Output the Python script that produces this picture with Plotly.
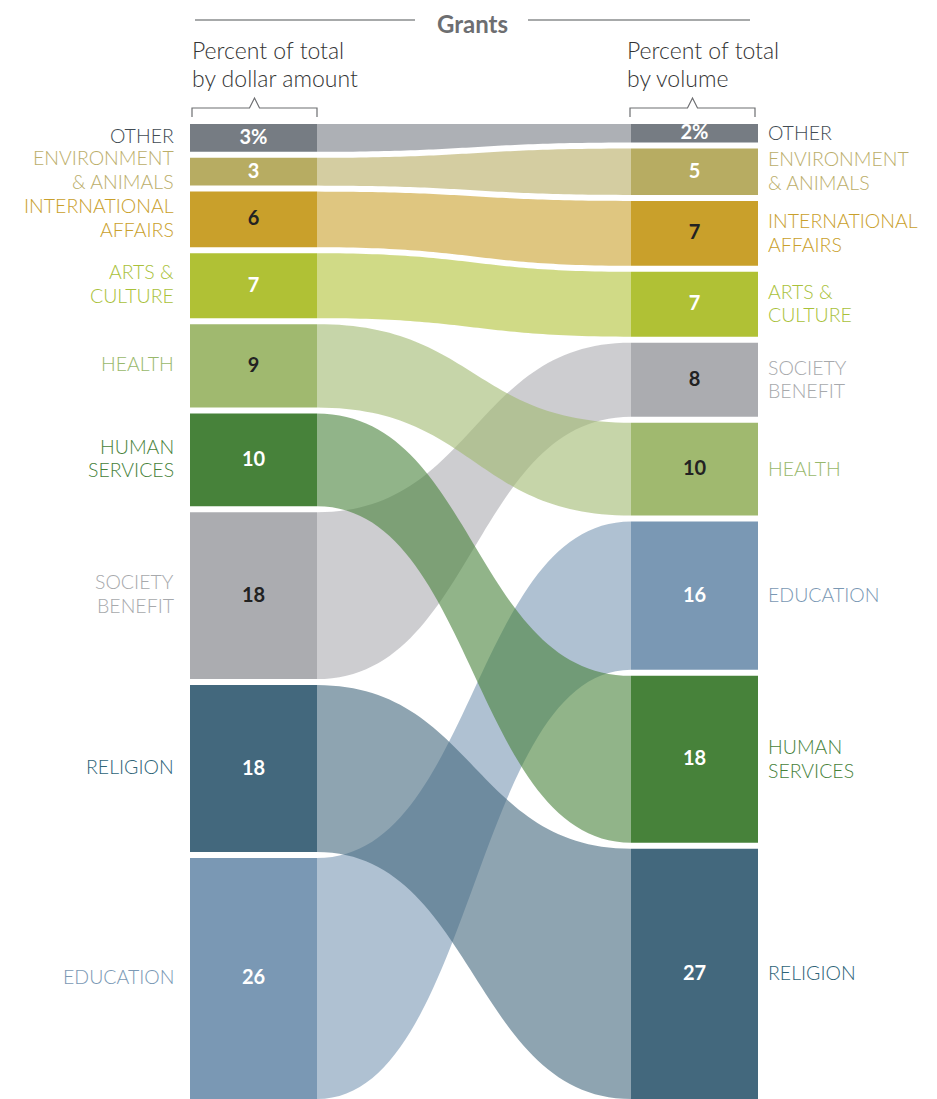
import plotly.graph_objects as go

# --- data (percent of total) ---
left_cats = ["OTHER", "ENVIRONMENT<br>& ANIMALS", "INTERNATIONAL<br>AFFAIRS", "ARTS &<br>CULTURE",
             "HEALTH", "HUMAN<br>SERVICES", "SOCIETY<br>BENEFIT", "RELIGION", "EDUCATION"]
left_vals = [3, 3, 6, 7, 9, 10, 18, 18, 26]
left_text = ["3%", "3", "6", "7", "9", "10", "18", "18", "26"]

right_cats = ["OTHER", "ENVIRONMENT<br>& ANIMALS", "INTERNATIONAL<br>AFFAIRS", "ARTS &<br>CULTURE",
              "SOCIETY<br>BENEFIT", "HEALTH", "EDUCATION", "HUMAN<br>SERVICES", "RELIGION"]
right_vals = [2, 5, 7, 7, 8, 10, 16, 18, 27]
right_text = ["2%", "5", "7", "7", "8", "10", "16", "18", "27"]

bar_colors = {
    "OTHER": "#767c83",
    "ENVIRONMENT<br>& ANIMALS": "#b7ac62",
    "INTERNATIONAL<br>AFFAIRS": "#c9a02b",
    "ARTS &<br>CULTURE": "#b0c135",
    "HEALTH": "#a0b96f",
    "HUMAN<br>SERVICES": "#47823a",
    "SOCIETY<br>BENEFIT": "#abacb0",
    "RELIGION": "#43687d",
    "EDUCATION": "#7a98b4",
}
label_colors = {
    "OTHER": "#414b53",
    "ENVIRONMENT<br>& ANIMALS": "#bbae6a",
    "INTERNATIONAL<br>AFFAIRS": "#c9a02b",
    "ARTS &<br>CULTURE": "#a9c13a",
    "HEALTH": "#98b86b",
    "HUMAN<br>SERVICES": "#47823a",
    "SOCIETY<br>BENEFIT": "#a7a9ac",
    "RELIGION": "#2e6478",
    "EDUCATION": "#7a98b4",
}
dark_nums = {"INTERNATIONAL<br>AFFAIRS", "HEALTH", "SOCIETY<br>BENEFIT"}

# ribbon draw order (bottom to top)
ribbon_order = ["OTHER", "ENVIRONMENT<br>& ANIMALS", "INTERNATIONAL<br>AFFAIRS", "ARTS &<br>CULTURE",
                "SOCIETY<br>BENEFIT", "EDUCATION", "RELIGION", "HEALTH", "HUMAN<br>SERVICES"]

# --- layout constants (page pixel space; page body has an 8px margin) ---
W, H = 937, 1099
OFF = 8
TOP = 124
GAP = 6
BAR_W = 127
LX0, RX0 = 190, 631
K = (H - TOP - GAP * (len(left_vals) - 1)) / sum(left_vals)
FONT = "Lato"


def stack(vals):
    tops, y = [], TOP
    for v in vals:
        tops.append(y)
        y += v * K + GAP
    return tops


left_tops = stack(left_vals)
right_tops = stack(right_vals)
L = {c: (t, t + v * K) for c, t, v in zip(left_cats, left_tops, left_vals)}
R = {c: (t, t + v * K) for c, t, v in zip(right_cats, right_tops, right_vals)}


def hexa(c, a):
    c = c.lstrip("#")
    return "rgba(%d,%d,%d,%s)" % (int(c[0:2], 16), int(c[2:4], 16), int(c[4:6], 16), a)


def bez(x0, y0, x1, y1, n=60):
    xm = (x0 + x1) / 2
    xs, ys = [], []
    for i in range(n + 1):
        t = i / n
        a, b, c, d = (1 - t) ** 3, 3 * (1 - t) ** 2 * t, 3 * (1 - t) * t ** 2, t ** 3
        xs.append(a * x0 + b * xm + c * xm + d * x1)
        ys.append(a * y0 + b * y0 + c * y1 + d * y1)
    return xs, ys


fig = go.Figure()

xa, xb = LX0 + BAR_W, RX0
for c in ribbon_order:
    (lt, lb), (rt, rb) = L[c], R[c]
    tx, ty = bez(xa, lt, xb, rt)
    bx, by = bez(xb, rb, xa, lb)
    fig.add_trace(go.Scatter(x=tx + bx, y=ty + by, fill="toself", mode="none",
                             fillcolor=hexa(bar_colors[c], 0.6), hoverinfo="skip", showlegend=False))

# bars
for cats, vals, tops, x0 in [(left_cats, left_vals, left_tops, LX0), (right_cats, right_vals, right_tops, RX0)]:
    fig.add_trace(go.Bar(x=[x0 + BAR_W / 2] * len(cats), y=[v * K for v in vals], base=tops,
                         width=BAR_W, marker=dict(color=[bar_colors[c] for c in cats], line_width=0),
                         hoverinfo="skip", showlegend=False))

# numbers in bars
for cats, vals, tops, x0, txt in [(left_cats, left_vals, left_tops, LX0, left_text),
                                  (right_cats, right_vals, right_tops, RX0, right_text)]:
    fig.add_trace(go.Scatter(
        x=[x0 + BAR_W / 2] * len(cats), y=[t + v * K / 2 + 1 for t, v in zip(tops, vals)],
        mode="text", text=txt,
        textfont=dict(family=FONT, size=20, weight=700,
                      color=["#222222" if c in dark_nums else "white" for c in cats]),
        hoverinfo="skip", showlegend=False))


def label(x, yc, text, anchor, color, size=19.5, step=23.5):
    lines = text.split("<br>")
    y0 = yc - step * (len(lines) - 1) / 2
    for i, ln in enumerate(lines):
        fig.add_annotation(x=x, y=y0 + i * step, text=ln, xanchor=anchor, yanchor="middle",
                           borderpad=0, showarrow=False,
                           font=dict(family=FONT, size=size, weight=300, color=color))


# category labels
for c, t, v in zip(left_cats, left_tops, left_vals):
    label(175, t + v * K / 2 - 2, c, "right", label_colors[c])
for c, t, v in zip(right_cats, right_tops, right_vals):
    label(767, t + v * K / 2 - 1, c, "left", label_colors[c])

# header
fig.add_annotation(x=472, y=23, text="<b>Grants</b>", showarrow=False, yanchor="middle",
                   borderpad=0, font=dict(family=FONT, size=24, color="#6d6e71"))
fig.add_shape(type="line", x0=195, x1=415, y0=20, y1=20, line=dict(color="#8a8c8e", width=1.3))
fig.add_shape(type="line", x0=528, x1=750, y0=20, y1=20, line=dict(color="#8a8c8e", width=1.3))
label(191, 64, "Percent of total<br>by dollar amount", "left", "#333333", size=23, step=28)
label(626, 64, "Percent of total<br>by volume", "left", "#333333", size=23, step=28)
for x0 in (LX0 + 2, RX0 - 1):
    x1 = x0 + BAR_W - 2
    xm = (x0 + x1) / 2
    fig.add_shape(type="path",
                  path=f"M{x0},117 L{x0},108 L{xm-5},108 L{xm},98 L{xm+5},108 L{x1},108 L{x1},117",
                  line=dict(color="#6d6e71", width=1.2))

fig.update_layout(
    width=W - OFF, height=H - OFF, margin=dict(l=0, r=0, t=0, b=0),
    plot_bgcolor="white", paper_bgcolor="white", barmode="overlay",
    xaxis=dict(range=[OFF, W], visible=False, fixedrange=True),
    yaxis=dict(range=[H, OFF], visible=False, fixedrange=True),
)

fig.write_html("out.html")
